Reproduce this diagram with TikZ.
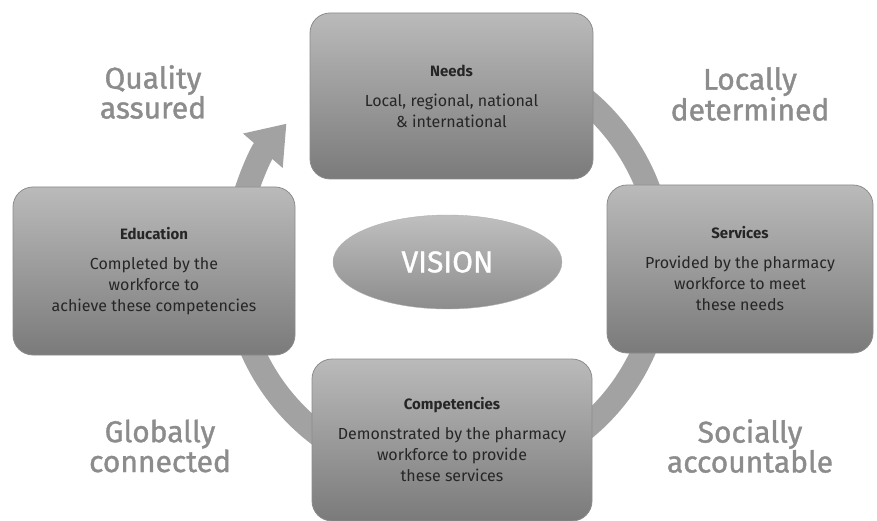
\documentclass[tikz,border=0pt]{standalone}
\usepackage{fontspec}
\setmainfont{Fira Sans}
\newfontfamily\mediumfont{Fira Sans}[FakeBold=1.2]
\usepackage{tikz}
\usetikzlibrary{arrows.meta,shapes.geometric}
\definecolor{ringgray}{HTML}{A2A2A2}
\definecolor{mottogray}{HTML}{8C8C8C}
\tikzset{
  stage/.style={draw=black!45, line width=0.8pt, rounded corners=20pt,
    top color=black!27, bottom color=black!52,
    minimum height=166pt, align=center, text=black!85,
    font=\fontsize{16}{21}\selectfont},
  motto/.style={text=mottogray, align=center,
    font=\mediumfont\fontsize{30}{28}\selectfont}
}

\begin{document}
\begin{tikzpicture}[x=1pt,y=-1pt]
            \useasboundingbox (0,0) rectangle (877,521);
            \coordinate (hub) at (448,264);

            % the cycle ring, drawn first so the boxes sit on top
            \draw [ringgray, line width=24pt, -{Triangle[width=50pt,length=36pt]}]
                ([shift={(-80:214)}]hub) arc [start angle=-80, end angle=221, radius=214];

            \node [stage, minimum width=283pt] (N) at (451.5,96)
                {{\bfseries\fontsize{15}{16}\selectfont Needs}\\[9pt]
                 Local, regional, national\\ \& international};
            \node [stage, minimum width=282pt, minimum height=168pt] (E) at (154,271)
                {{\bfseries\fontsize{15}{16}\selectfont Education}\\[9pt]
                 Completed by the\\ workforce to\\ achieve these competencies};
            \node [stage, minimum width=266pt, minimum height=168pt] (S) at (740,269)
                {{\bfseries\fontsize{15}{16}\selectfont Services}\\[9pt]
                 Provided by the pharmacy\\ workforce to meet\\ these needs};
            \node [stage, minimum width=280pt, minimum height=162pt] (C) at (452,440)
                {{\bfseries\fontsize{15}{16}\selectfont Competencies}\\[9pt]
                 Demonstrated by the pharmacy\\ workforce to provide\\ these services};

            \node [ellipse, draw=black!30, top color=black!25, bottom color=black!45,
                   minimum width=229pt, minimum height=94pt, text=white,
                   font=\mediumfont\fontsize{30}{30}\selectfont] (V) at (447.5,262) {VISION};

            \node [motto] (QA) at (153,92) {Quality\\ assured};
            \node [motto] (LD) at (750,94) {Locally\\ determined};
            \node [motto] (GC) at (160,446) {Globally\\ connected};
            \node [motto] (SA) at (750,446) {Socially\\ accountable};
        \end{tikzpicture}
\end{document}
